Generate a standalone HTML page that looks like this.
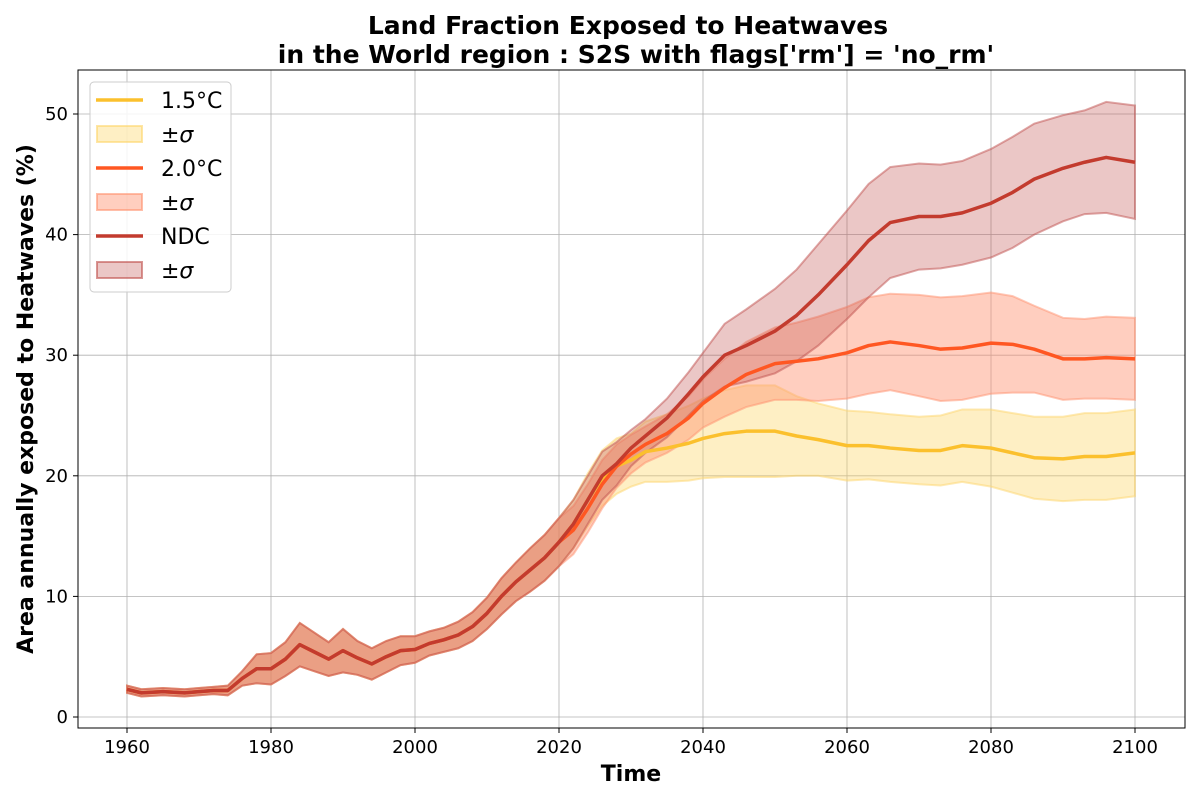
<!DOCTYPE html>
<html><head><meta charset="utf-8"><style>
body{margin:0;background:#fff;font-family:"DejaVu Sans","Liberation Sans",sans-serif}
</style></head><body>
<svg id="c" width="1200" height="800" xmlns="http://www.w3.org/2000/svg" font-family="DejaVu Sans, Liberation Sans, sans-serif"></svg>
<script>
const years=[1960,1962,1965,1968,1970,1972,1974,1976,1978,1980,1982,1984,1986,1988,1990,1992,1994,1996,1998,2000,2002,2004,2006,2008,2010,2012,2014,2016,2018,2020,2022,2024,2026,2028,2030,2032,2035,2038,2040,2043,2046,2050,2053,2056,2060,2063,2066,2070,2073,2076,2080,2083,2086,2090,2093,2096,2100];
const histMean=[2.3,2.0,2.1,2.0,2.1,2.2,2.2,3.2,4.0,4.0,4.8,6.0,5.4,4.8,5.5,4.9,4.4,5.0,5.5,5.6,6.1,6.4,6.8,7.5,8.6,10.0,11.2,12.2,13.2,14.5];
const histSig=[0.3,0.3,0.3,0.3,0.3,0.3,0.4,0.6,1.2,1.3,1.4,1.8,1.6,1.4,1.8,1.4,1.3,1.3,1.2,1.1,1.0,1.0,1.1,1.2,1.3,1.5,1.6,1.8,1.9,2.0];
const ndcMean=[16,18,20,21,22.3,23.3,24.8,26.8,28.2,30.0,30.8,32.0,33.3,35.0,37.5,39.5,41.0,41.5,41.5,41.8,42.6,43.5,44.6,45.5,46.0,46.4,46.0];
const ndcSig=[2.0,2.0,2.0,1.8,1.5,1.4,1.6,1.8,2.0,2.6,3.0,3.5,3.8,4.2,4.5,4.7,4.6,4.4,4.3,4.3,4.5,4.6,4.6,4.4,4.3,4.6,4.7];
const t20Mean=[15.5,17.3,19.3,20.8,21.8,22.6,23.5,24.8,26.0,27.3,28.4,29.3,29.5,29.7,30.2,30.8,31.1,30.8,30.5,30.6,31.0,30.9,30.5,29.7,29.7,29.8,29.7];
const t20Sig=[2.0,2.0,2.0,1.8,1.6,1.5,1.6,1.8,2.0,2.4,2.7,3.0,3.2,3.5,3.8,4.0,4.0,4.2,4.3,4.3,4.2,4.0,3.6,3.4,3.3,3.4,3.4];
const t15Mean=[16,18,19.8,20.8,21.3,22,22.3,22.7,23.1,23.5,23.7,23.7,23.3,23.0,22.5,22.5,22.3,22.1,22.1,22.5,22.3,21.9,21.5,21.4,21.6,21.6,21.9];
const t15Sig=[2.0,2.2,2.3,2.3,2.2,2.5,2.8,3.1,3.3,3.6,3.8,3.8,3.3,3.0,2.9,2.8,2.8,2.8,2.9,3.0,3.2,3.3,3.4,3.5,3.6,3.6,3.6];
const xTicks=[1960,1980,2000,2020,2040,2060,2080,2100];
const yTicks=[0,10,20,30,40,50];

const NS="http://www.w3.org/2000/svg",svg=document.getElementById('c');
const L=78,R=1185,T=70,B=728;
const X=y=>127+(y-1960)*(1135-127)/140;
const Y=v=>717-v*(717-114)/50;
function el(t,a,p){const e=document.createElementNS(NS,t);for(const k in a)e.setAttribute(k,a[k]);(p||svg).appendChild(e);return e;}
function txt(s,a){const e=el('text',a);e.textContent=s;return e;}
xTicks.forEach(t=>{const g=el('line',{x1:X(t),x2:X(t),y1:T,y2:B,stroke:'#b0b0b0','stroke-width':0.8});

const l=txt(t,{x:X(t),y:B+25,'font-size':18,'text-anchor':'middle'});
el('line',{x1:X(t),x2:X(t),y1:B,y2:B+5,stroke:'#000'});});
yTicks.forEach(t=>{const g=el('line',{x1:L,x2:R,y1:Y(t),y2:Y(t),stroke:'#b0b0b0','stroke-width':0.8});

const l=txt(t,{x:L-10,y:Y(t)+6,'font-size':18,'text-anchor':'end'});
el('line',{x1:L-5,x2:L,y1:Y(t),y2:Y(t),stroke:'#000'});});
function series(m,s,line,fill,fop,name){
  const mean=histMean.concat(m),sig=histSig.concat(s);
  let up=years.map((y,i)=>X(y)+','+Y(mean[i]+sig[i])),dn=years.map((y,i)=>X(y)+','+Y(mean[i]-sig[i])).reverse();
  const b=el('polygon',{points:up.concat(dn).join(' '),fill:fill,'fill-opacity':fop,stroke:fill,'stroke-opacity':0.5,'stroke-width':2});
  
  return ()=>{const p=el('polyline',{points:years.map((y,i)=>X(y)+','+Y(mean[i])).join(' '),fill:'none',stroke:line,'stroke-width':3.5,'stroke-linejoin':'round'});
  };
}
const a=series(t15Mean,t15Sig,'#fbc02d','#fdd66b',0.4,'series-1-5c');
const b=series(t20Mean,t20Sig,'#ff5722','#ff9270',0.45,'series-2-0c');
const c=series(ndcMean,ndcSig,'#c33b2e','#c0504d',0.32,'series-ndc');
a();b();c();
el('rect',{x:L,y:T,width:R-L,height:B-T,fill:'none',stroke:'#000','stroke-width':1});
let t=txt('Land Fraction Exposed to Heatwaves',{x:628,y:34,'font-size':25,'font-weight':'bold','text-anchor':'middle'});
t=txt("in the World region : S2S with flags['rm'] = 'no_rm'",{x:636,y:63,'font-size':25,'font-weight':'bold','text-anchor':'middle'});
t=txt('Time',{x:631,y:781,'font-size':22,'font-weight':'bold','text-anchor':'middle'});
t=txt('Area annually exposed to Heatwaves (%)',{x:0,y:0,'font-size':22,'font-weight':'bold','text-anchor':'middle',transform:'translate(33,399) rotate(-90)'});
const lg=el('rect',{x:90,y:82,width:141,height:210,rx:4,fill:'#fff','fill-opacity':0.85,stroke:'#ccc'});
const ents=[['1.5°C','line','#fbc02d'],['±σ','box','#fdd66b',0.4],['2.0°C','line','#ff5722'],['±σ','box','#ff9270',0.45],['NDC','line','#c33b2e'],['±σ','box','#c0504d',0.32]];
ents.forEach((e,i)=>{const y=100+i*34;
 if(e[1]=='line'){el('line',{x1:96,x2:143,y1:y,y2:y,stroke:e[2],'stroke-width':3.5});}
 else el('rect',{x:97,y:y-8,width:45,height:16,fill:e[2],'fill-opacity':e[3],stroke:e[2],'stroke-opacity':0.6,'stroke-width':2});
 const tt=txt(e[0],{x:161,y:y+8,'font-size':22,'font-style':e[1]=='box'?'italic':'normal'});
 
 });
</script>
</body></html>
